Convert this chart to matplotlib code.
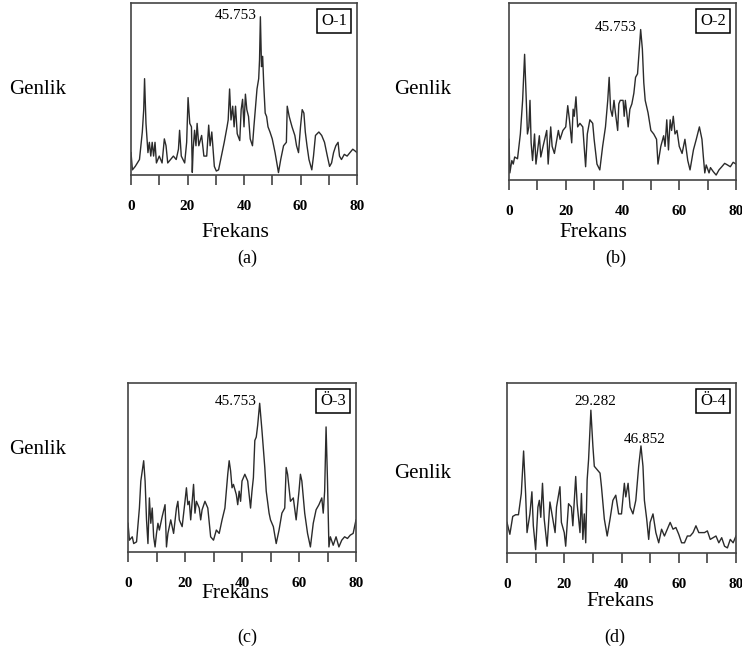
import matplotlib
matplotlib.use("Agg")
import matplotlib.pyplot as plt
from matplotlib.offsetbox import AnchoredText
from matplotlib.ticker import MultipleLocator

# Spectrum readings (frequency, amplitude in % of plot height)
freq_a = [0, 0.5, 1.5, 3, 4, 4.5, 4.8, 5.3, 6, 6.5, 7, 7.5, 8, 8.5, 9, 10, 11, 11.8, 12.4, 13,
          14, 15, 16, 16.8, 17.2, 17.8, 19, 19.7, 20.2, 20.8, 21.4, 21.7, 22, 22.5, 23, 23.4, 24,
          25, 25.8, 26.8, 27.5, 28, 28.6, 29.5, 30.2, 31, 32, 33, 34, 34.4, 34.9, 35.4, 36, 36.5,
          37, 37.6, 38.5, 39, 39.5, 40, 40.5, 41, 41.6, 42.2, 43, 43.5, 44, 44.6, 45.2, 45.5,
          45.8, 46.2, 46.6, 47, 47.5, 48, 48.5, 49.2, 50, 51, 52.2, 53, 54, 55, 55.3, 56, 57, 58,
          58.6, 59.3, 60, 60.6, 61.2, 61.7, 62.3, 63, 64, 64.6, 65.3, 66.5, 67.5, 68.5, 69.5,
          70.3, 71, 71.7, 72.5, 73.3, 73.8, 74.5, 75.5, 76.5, 77.5, 78.5, 79.3, 80]
amp_a = [13, 3, 5, 9, 25, 38, 56, 30, 13, 19, 11, 19, 11, 19, 7, 11, 7, 21, 17, 7,
         9, 11, 9, 15, 26, 11, 7, 19, 45, 30, 28, 1.5, 15, 26, 17, 30, 17,
         23, 11, 11, 29, 17, 25, 5, 2.3, 3, 11, 19, 28, 32, 50, 32, 40, 28,
         40, 24, 20, 38, 44, 28, 47, 38, 34, 21, 17, 28, 38, 50, 56, 67,
         92, 63, 69, 52, 36, 34, 28, 25, 21, 13, 1.4, 9, 17, 19, 40, 34, 28, 23,
         17, 13, 28, 38, 36, 25, 17, 9, 3, 11, 23, 25, 23, 19, 11,
         5, 7, 13, 17, 19, 11, 9, 12, 11, 13, 15, 14, 13]

freq_b = [0, 0.3, 1, 1.5, 2, 3, 4, 4.8, 5.5, 6, 6.5, 7, 7.4, 7.8, 8.3, 9, 9.5, 10.7, 11.2, 12,
          13.3, 13.8, 14.7, 15.2, 16, 17.4, 18, 19, 20, 20.7, 21.3, 22.1, 22.6, 23, 23.6, 24.2,
          25, 26, 27, 27.6, 28.5, 29.5, 30, 31, 32, 33, 34, 34.8, 35.3, 35.8, 36.4, 37, 37.5,
          38.3, 38.7, 39.2, 40.2, 40.6, 41, 41.5, 42, 42.6, 43.3, 44, 44.6, 45.3, 46.4, 47,
          47.5, 48, 49, 50, 51, 52, 52.5, 53.5, 54.5, 55, 55.6, 56.2, 56.8, 57.3, 57.9, 58.5,
          59.2, 60, 61, 62, 63, 63.8, 65, 66, 67.1, 68, 68.5, 69, 69.5, 70.5, 71, 72, 73, 74,
          75, 76, 77, 78, 79, 80]
amp_b = [23, 4, 11, 9, 13, 12, 26, 45, 71, 49, 26, 30, 45, 21, 11, 26, 9, 25, 13, 19,
         28, 9, 30, 19, 15, 28, 23, 28, 30, 42, 34, 21, 40, 36, 47, 30,
         32, 30, 7.5, 26, 34, 32, 23, 9, 5.7, 19, 30, 45, 58, 40, 36, 45, 38,
         28, 43, 45, 45, 36, 45, 38, 30, 40, 43, 49, 58, 60, 85, 74,
         55, 45, 38, 28, 26, 23, 9, 19, 25, 19, 34, 17, 34, 28, 36, 26,
         28, 19, 15, 23, 11, 5.7, 17, 23, 30, 23, 13, 4, 8.5, 4, 7, 4.7, 2.8, 5.7,
         7.5, 9.4, 8.5, 7.5, 10, 9]

freq_c = [0, 0.5, 1.5, 2, 3, 4, 4.5, 5.5, 6, 6.5, 7, 7.5, 8, 8.5, 9, 9.5, 10, 10.5, 11, 12,
          13, 13.5, 14, 15, 16, 17, 17.5, 18, 19, 20, 20.5, 21, 21.5, 22, 23, 23.5, 24, 25,
          25.5, 26, 27, 28, 29, 30, 31, 32, 33, 34, 35, 35.5, 36, 36.5, 37, 38, 38.5, 39, 39.5,
          40, 41, 42, 43, 43.5, 44, 44.5, 45, 45.5, 46.2, 47, 48, 48.5, 49.5, 50, 51, 52, 53,
          54, 55, 55.5, 56, 57, 58, 59, 60, 60.5, 61, 62, 63, 64, 65, 66, 67, 68, 68.5, 69,
          69.5, 70, 70.5, 71, 72, 73, 74, 75, 76, 77, 78, 79, 80]
amp_c = [17, 7, 9, 5, 6, 26, 42, 54, 42, 19, 5, 32, 17, 26, 9, 3, 11, 17, 13, 21,
         28, 3, 11, 19, 11, 26, 30, 19, 15, 30, 38, 28, 30, 19, 40, 23, 30, 26,
         19, 25, 30, 26, 9, 7, 13, 11, 19, 26, 46, 54, 48, 38, 40, 34, 28, 36, 30,
         42, 46, 42, 26, 36, 44, 66, 68, 75, 88, 72, 50, 36, 23, 19, 15, 5, 13,
         23, 26, 50, 46, 30, 32, 19, 36, 46, 42, 23, 11, 3, 17, 25, 28, 32, 23, 36,
         74, 42, 3, 9, 4, 9, 3, 7, 9, 8, 10, 11, 19]

freq_d = [0, 1, 2, 3, 4, 5, 5.8, 6.5, 7, 8, 8.7, 9.2, 10, 10.8, 11.3, 11.8, 12.4, 13, 14, 15,
          16, 16.8, 17.3, 18.5, 19, 20, 20.5, 21.5, 22.5, 23, 24, 24.5, 25.5, 26, 26.5, 27,
          27.5, 28, 28.5, 29.3, 30, 30.5, 31.5, 32.5, 33, 34, 35, 36, 37, 38, 39, 40, 41, 41.5,
          42.3, 43, 44, 45, 46, 46.8, 47.5, 48, 48.8, 49.5, 50, 51, 52, 53, 54, 55, 56, 57, 58,
          59, 60, 61, 62, 63, 64, 65, 66, 67, 68, 69, 70, 71, 72, 73, 74, 75, 76, 77, 78, 79, 80]
amp_d = [18, 11, 21.5, 22.5, 22.5, 35, 60, 35, 12, 23, 36, 16, 2, 27, 31, 21, 41, 20, 4, 30,
         20, 12, 27, 39, 18, 12, 4, 29, 27, 16, 45, 29, 12, 35, 8, 23,
         6, 43, 55, 84, 63, 51, 49, 47, 39, 20, 10, 20, 31, 34, 23, 23, 41, 33,
         41, 27, 23, 31, 51, 63, 51, 31, 20, 8, 18, 23, 12, 6, 14, 10, 14, 18, 14,
         15, 11, 6, 6, 10, 10, 12, 16, 12, 12, 12, 13, 8, 9, 10, 6, 9, 4, 3, 8, 6, 10]

panel_names = ["O-1", "O-2", "Ö-3", "Ö-4"]
panel_letters = ["(a)", "(b)", "(c)", "(d)"]
xticks = [0, 20, 40, 60, 80]

W, H = 742, 655
plt.rcParams.update({
    "font.family": ["Liberation Serif", "DejaVu Serif"],
    "text.color": "black",
})

fig = plt.figure(figsize=(W / 100, H / 100), dpi=100)


def px_axes(left, top, right, bottom):
    return fig.add_axes([left / W, 1 - bottom / H, (right - left) / W, (bottom - top) / H])


def ftext(x, y, s, size, **kw):
    fig.text(x / W, 1 - y / H, s, fontsize=size, ha="center", va="center", **kw)


boxes = [(131, 3, 357, 175), (509, 3, 736, 180), (128, 383, 356, 552), (507, 383, 736, 553)]
series = [(freq_a, amp_a), (freq_b, amp_b), (freq_c, amp_c), (freq_d, amp_d)]

for (l, t, r, b), (fx, fy), name in zip(boxes, series, panel_names):
    ax = px_axes(l, t, r, b)
    ax.plot(fx, fy, color="#2b2b2b", lw=1.0)
    ax.set_xlim(0, 80)
    ax.set_ylim(0, 100)
    ax.set_yticks([])
    ax.set_xticks(xticks)
    ax.xaxis.set_minor_locator(MultipleLocator(10))
    ax.tick_params(axis="x", which="both", direction="out", length=7, width=1.1,
                   color="#333333", pad=11, labelsize=11)
    for lab in ax.get_xticklabels():
        lab.set_fontweight("bold")
    for sp in ax.spines.values():
        sp.set_linewidth(1.2)
        sp.set_color("#444444")
    at = AnchoredText(name, loc="upper right", prop=dict(size=12), frameon=True,
                      pad=0.25, borderpad=0.35)
    at.patch.set_linewidth(1.1)
    ax.add_artist(at)
    if name == "O-1":
        ax.text(44.6, 93, "45.753", fontsize=11, ha="right", va="center")
    elif name == "O-2":
        ax.text(45.1, 86, "45.753", fontsize=11, ha="right", va="center")
    elif name == "Ö-3":
        ax.text(45.3, 89, "45.753", fontsize=11, ha="right", va="center")
    else:
        ax.text(30.7, 89, "29.282", fontsize=11, ha="center", va="center")
        ax.text(48.2, 67, "46.852", fontsize=11, ha="center", va="center")

# axis captions placed as in the source layout
for x, y in [(38, 90), (423, 90), (38, 449), (423, 473)]:
    ftext(x, y, "Genlik", 15)
for x, y in [(235, 232), (593, 232), (235, 593), (620, 601)]:
    ftext(x, y, "Frekans", 15.5)
for (x, y), s in zip([(247, 258), (616, 258), (247, 637), (615, 637)], panel_letters):
    ftext(x, y, s, 13)

fig.savefig("out.png", dpi=100, facecolor="white")
